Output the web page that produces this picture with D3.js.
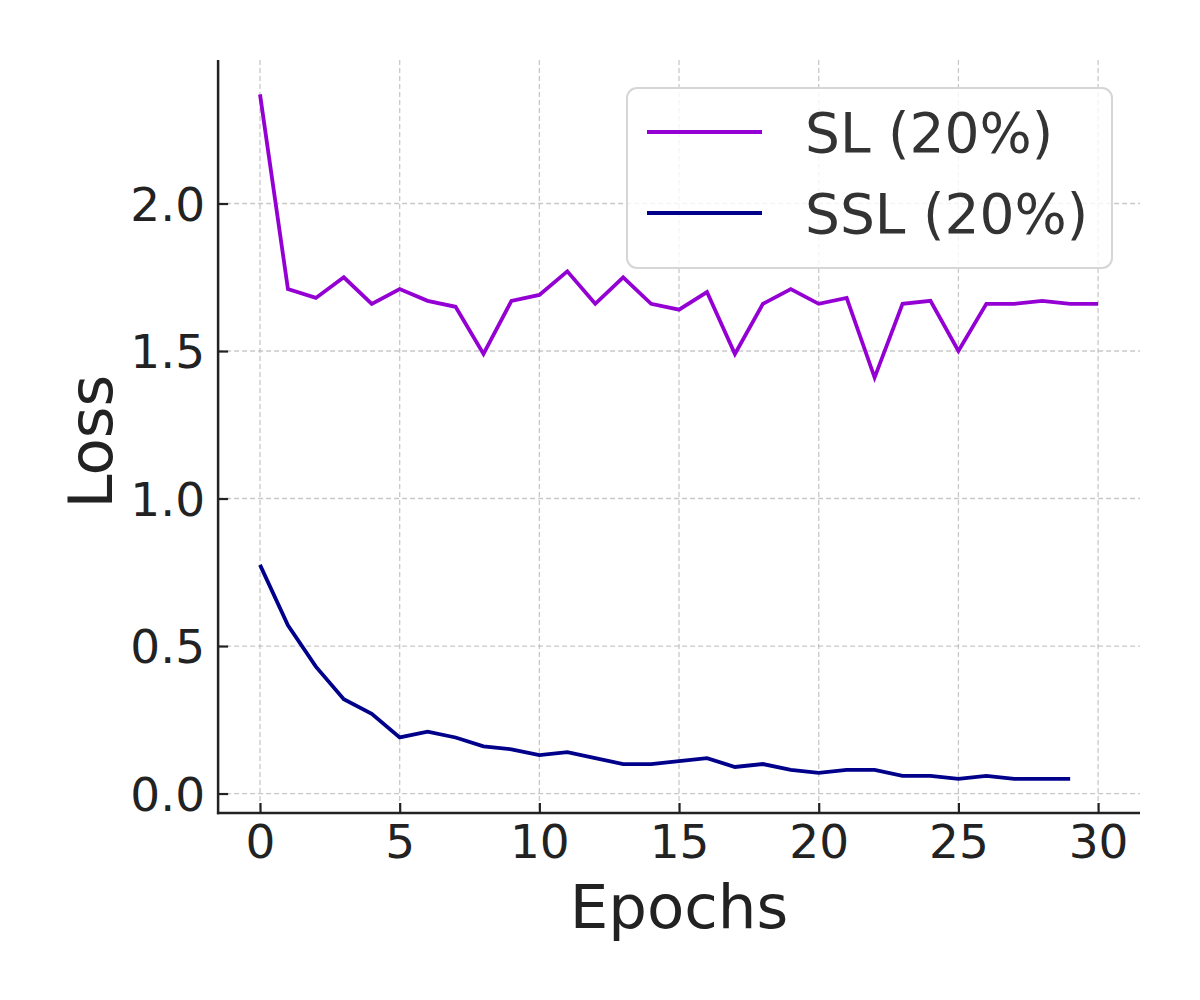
<!DOCTYPE html>
<html>
<head>
<meta charset="utf-8">
<script src="https://cdn.jsdelivr.net/npm/d3@7"></script>
<style>
  body { margin: 0; background: #fff; }
  svg { display: block; font-family: "DejaVu Sans", sans-serif; }
</style>
</head>
<body>
<svg id="chart" width="1200" height="1000"></svg>
<script>
const epochs = d3.range(0, 31);
const slLoss = [2.37, 1.71, 1.68, 1.75, 1.66, 1.71, 1.67, 1.65, 1.49, 1.67,
                1.69, 1.77, 1.66, 1.75, 1.66, 1.64, 1.70, 1.49, 1.66, 1.71,
                1.66, 1.68, 1.41, 1.66, 1.67, 1.50, 1.66, 1.66, 1.67, 1.66, 1.66];
const sslLoss = [0.775, 0.57, 0.43, 0.32, 0.27, 0.19, 0.21, 0.19, 0.16, 0.15,
                 0.13, 0.14, 0.12, 0.10, 0.10, 0.11, 0.12, 0.09, 0.10, 0.08,
                 0.07, 0.08, 0.08, 0.06, 0.06, 0.05, 0.06, 0.05, 0.05, 0.05];
const xTicks = [0, 5, 10, 15, 20, 25, 30];
const yTicks = [0.0, 0.5, 1.0, 1.5, 2.0];
const seriesNames = ["SL (20%)", "SSL (20%)"];
const seriesColors = ["#9400D3", "#00008B"];

const svg = d3.select("#chart");
const L = 218.1, R = 1140, T = 60, B = 813;

const x = d3.scaleLinear().domain([-1.5, 31.5]).range([L, R]);
const y = d3.scaleLinear().domain([-0.066, 2.4865]).range([B, T]);

// grid
const grid = svg.append("g");
grid.selectAll("line.gx").data(xTicks).join("line")
  .attr("x1", d => x(d)).attr("x2", d => x(d))
  .attr("y1", T).attr("y2", B)
  .attr("stroke", "#b0b0b0").attr("stroke-opacity", 0.7)
  .attr("stroke-width", 1.3).attr("stroke-dasharray", "5,3");
grid.selectAll("line.gy").data(yTicks).join("line")
  .attr("x1", L).attr("x2", R)
  .attr("y1", d => y(d)).attr("y2", d => y(d))
  .attr("stroke", "#b0b0b0").attr("stroke-opacity", 0.7)
  .attr("stroke-width", 1.3).attr("stroke-dasharray", "5,3");

// lines
const line = d3.line().x(d => x(d[0])).y(d => y(d[1]));
[slLoss, sslLoss].forEach((vals, i) => {
  svg.append("path")
    .datum(vals.map((v, j) => [epochs[j], v]))
    .attr("d", line)
    .attr("fill", "none")
    .attr("stroke", seriesColors[i])
    .attr("stroke-width", 3.8)
    .attr("stroke-linejoin", "miter");
});

// axes
const xAxis = d3.axisBottom(x).tickValues(xTicks).tickSizeInner(-10).tickSizeOuter(0)
  .tickPadding(22).tickFormat(d3.format("d"));
const gx = svg.append("g").attr("transform", `translate(0,${B})`).call(xAxis);
gx.select(".domain").remove();
gx.selectAll(".tick line").attr("stroke", "#222").attr("stroke-width", 2.2);
gx.selectAll(".tick text").attr("font-size", 47).attr("fill", "#222")
  .attr("font-family", "DejaVu Sans").attr("dy", "0.71em").attr("y", 12);

const yAxis = d3.axisLeft(y).tickValues(yTicks).tickSizeInner(-10).tickSizeOuter(0)
  .tickPadding(14).tickFormat(d3.format(".1f"));
const gy = svg.append("g").attr("transform", `translate(${L},0)`).call(yAxis);
gy.select(".domain").remove();
gy.selectAll(".tick line").attr("stroke", "#222").attr("stroke-width", 2.2);
gy.selectAll(".tick text").attr("font-size", 47).attr("fill", "#222")
  .attr("font-family", "DejaVu Sans").attr("x", -13).attr("dy", "0.36em");

// spines
svg.append("line").attr("x1", L).attr("x2", L).attr("y1", T).attr("y2", B + 1.2)
  .attr("stroke", "#222").attr("stroke-width", 2.5);
svg.append("line").attr("x1", L - 1.2).attr("x2", R).attr("y1", B).attr("y2", B)
  .attr("stroke", "#222").attr("stroke-width", 2.5);

// axis labels
svg.append("text").attr("x", (L + R) / 2).attr("y", 928)
  .attr("text-anchor", "middle").attr("font-size", 61).attr("fill", "#222")
  .text("Epochs");
svg.append("text").attr("transform", `translate(112,${(T + B) / 2 + 5}) rotate(-90)`)
  .attr("text-anchor", "middle").attr("font-size", 61).attr("fill", "#222")
  .text("Loss");

// legend
const lg = svg.append("g");
lg.append("rect").attr("x", 627).attr("y", 88).attr("width", 485).attr("height", 180)
  .attr("rx", 10).attr("ry", 10)
  .attr("fill", "#fff").attr("fill-opacity", 0.8)
  .attr("stroke", "#d6d6d6").attr("stroke-width", 2);
seriesNames.forEach((name, i) => {
  const cy = 132 + i * 81;
  lg.append("line").attr("x1", 647).attr("x2", 762).attr("y1", cy).attr("y2", cy)
    .attr("stroke", seriesColors[i]).attr("stroke-width", 3.8);
  lg.append("text").attr("x", 805).attr("y", cy).attr("dy", "0.36em")
    .attr("font-size", 55).attr("fill", "#333").text(name);
});
</script>
</body>
</html>
